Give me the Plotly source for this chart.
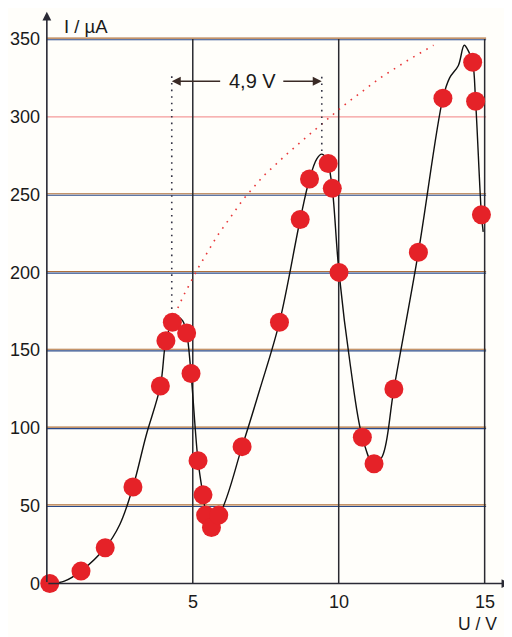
import plotly.graph_objects as go

# measured points (U in V, I in µA)
meas_u = [0.10, 1.17, 2.0, 2.95, 3.89, 4.08, 4.30, 4.79, 4.94, 5.18, 5.35, 5.44, 5.64, 5.89,
          6.69, 7.97, 8.68, 9.0, 9.64, 9.78, 10.01, 10.81, 11.21, 11.89, 12.73, 13.57,
          14.59, 14.69, 14.89]
meas_i = [0, 8, 23, 62, 127, 156, 168, 161, 135, 79, 57, 44, 36, 44,
          88, 168, 234, 260, 270, 254, 200, 94, 77, 125, 213, 312,
          335, 310, 237]

# hand-drawn curve through the measurements
curve_u = [0.2, 0.6, 1.17, 2.0, 2.5, 2.95, 3.4, 3.89, 4.08, 4.3, 4.5, 4.65, 4.79, 4.94,
           5.18, 5.35, 5.45, 5.6, 5.89, 6.69, 7.3, 7.97, 8.68, 9.0, 9.25, 9.42, 9.55,
           9.64, 9.78, 10.01, 10.4, 10.81, 11.21, 11.5, 11.89, 12.73, 13.57, 13.8,
           14.1, 14.3, 14.45, 14.59, 14.69, 14.89, 14.95]
curve_i = [0, 1.5, 8, 23, 38, 62, 95, 127, 156, 168, 171, 169, 161, 135,
           79, 57, 46, 41, 44, 88, 125, 168, 234, 260, 273, 276, 274,
           270, 254, 200, 140, 94, 76, 82, 125, 213, 312, 325,
           333, 346, 342, 335, 310, 237, 226]

# red dotted envelope
env_u = [4.30, 4.39, 4.68, 5.19, 5.82, 6.73, 7.42, 8.22, 9.02, 9.60, 10.15, 11.42, 12.34, 13.25]
env_i = [168, 173, 185, 203, 223, 247, 262, 276, 289, 298, 307, 325, 336, 346]

# y ticks / grid
y_ticks = [0, 50, 100, 150, 200, 250, 300, 350]
x_ticks = [5, 10, 15]
x_ticklabels = ["5", "10", "15"]

# 4,9 V marker
peak1_u, peak2_u = 4.28, 9.42
arrow_i = 322.8
dotted_top = 328
peak1_i, peak2_i = 168, 278

FONT = "Liberation Sans, Arial, Helvetica, sans-serif"
TXT = "#1a1a1a"

fig = go.Figure()

fig.add_trace(go.Scatter(x=env_u, y=env_i, mode="lines",
                         line=dict(color="#e8383a", width=1.6, dash="1.6px,6px"),
                         hoverinfo="skip", showlegend=False))
fig.add_trace(go.Scatter(x=[peak1_u, peak1_u], y=[peak1_i, dotted_top], mode="lines",
                         line=dict(color="#333344", width=1.6, dash="1.6px,5px"),
                         showlegend=False))
fig.add_trace(go.Scatter(x=[peak2_u, peak2_u], y=[peak2_i, dotted_top], mode="lines",
                         line=dict(color="#333344", width=1.6, dash="1.6px,5px"),
                         showlegend=False))
fig.add_trace(go.Scatter(x=curve_u, y=curve_i, mode="lines",
                         line=dict(color="#111111", width=1.4, shape="spline", smoothing=1.0),
                         showlegend=False, cliponaxis=False))
fig.add_trace(go.Scatter(x=meas_u, y=meas_i, mode="markers",
                         marker=dict(color="#e52228", size=19, line=dict(width=0)),
                         showlegend=False, cliponaxis=False))

shapes = []
for v in y_ticks[1:]:
    if v == 300:
        shapes.append(dict(type="line", xref="x", yref="y", x0=0, x1=15.05, y0=v, y1=v,
                           line=dict(color="#f59a9a", width=1.3), layer="below"))
    else:
        shapes.append(dict(type="line", xref="x", yref="y", x0=0, x1=15.05, y0=v + 0.55, y1=v + 0.55,
                           line=dict(color="#b0703a", width=1.1), layer="below"))
        shapes.append(dict(type="line", xref="x", yref="y", x0=0, x1=15.05, y0=v - 0.45, y1=v - 0.45,
                           line=dict(color="#2a4a8a", width=1.1), layer="below"))
for v in x_ticks:
    shapes.append(dict(type="line", xref="x", yref="y", x0=v, x1=v, y0=0, y1=350,
                       line=dict(color="#2a2a30", width=1.5), layer="below"))

annotations = [
    # axes with arrowheads
    dict(x=15.88, y=0, ax=0, ay=0, xref="x", yref="y", axref="x", ayref="y", text="",
         showarrow=True, arrowhead=2, arrowsize=1.1, arrowwidth=1.6, arrowcolor="#2a2a35"),
    dict(x=0, y=367.5, ax=0, ay=0, xref="x", yref="y", axref="x", ayref="y", text="",
         showarrow=True, arrowhead=2, arrowsize=1.1, arrowwidth=1.6, arrowcolor="#2a2a35"),
    # 4,9 V arrows
    dict(x=peak1_u, y=arrow_i, ax=5.99, ay=arrow_i, xref="x", yref="y", axref="x", ayref="y",
         text="", showarrow=True, arrowhead=2, arrowsize=1.2, arrowwidth=1.5, arrowcolor="#3a2a25"),
    dict(x=peak2_u, y=arrow_i, ax=8.05, ay=arrow_i, xref="x", yref="y", axref="x", ayref="y",
         text="", showarrow=True, arrowhead=2, arrowsize=1.2, arrowwidth=1.5, arrowcolor="#3a2a25"),
    dict(x=7.05, y=arrow_i, xref="x", yref="y", text="4,9 V", showarrow=False,
         font=dict(family=FONT, size=20, color=TXT)),
    # axis titles
    dict(x=1.34, y=358, xref="x", yref="y", text="I / µA", showarrow=False,
         font=dict(family=FONT, size=18.5, color=TXT)),
    dict(x=14.75, y=0, xref="x", yref="y", yanchor="bottom", yshift=-52, text="U / V",
         showarrow=False, font=dict(family=FONT, size=17.5, color=TXT)),
]
# x tick labels
for v, t in zip(x_ticks, x_ticklabels):
    annotations.append(dict(x=v, y=0, xref="x", yref="y", yanchor="middle", yshift=-18,
                            text=t, showarrow=False, font=dict(family=FONT, size=18, color=TXT)))

fig.update_layout(
    width=504, height=629,
    margin=dict(l=33, r=4, t=3, b=41),
    paper_bgcolor="#fffefa", plot_bgcolor="#fffefa",
    shapes=shapes, annotations=annotations, showlegend=False,
    xaxis=dict(range=[-0.2, 15.8], showgrid=False, zeroline=False, showline=False,
               showticklabels=False, ticks=""),
    yaxis=dict(range=[-8, 368], showgrid=False, zeroline=False, showline=False,
               tickvals=y_ticks, ticks="",
               tickfont=dict(family=FONT, size=18, color=TXT)),
)

fig.write_html("out.html")
